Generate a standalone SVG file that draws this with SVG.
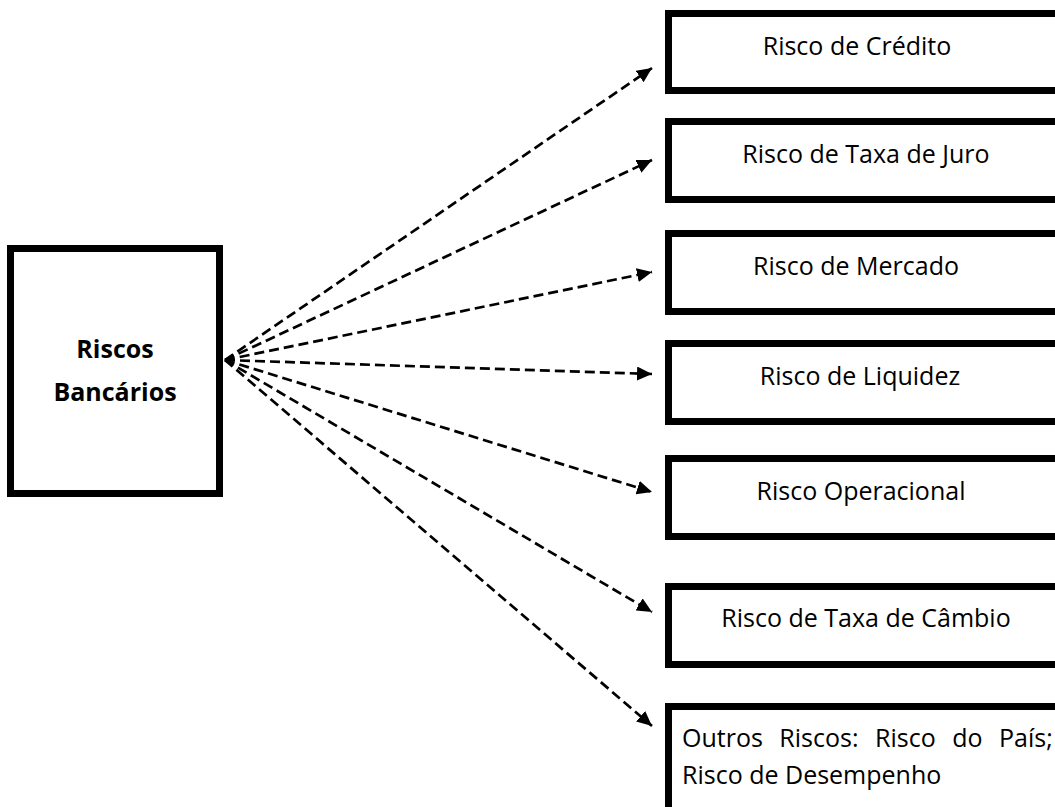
<svg xmlns="http://www.w3.org/2000/svg" width="1055" height="807" viewBox="0 0 1055 807">
<defs>
<style>
.box{fill:#fff;stroke:#000;stroke-width:7}
.t{font-family:"Open Sans","Noto Sans",sans-serif;font-size:25px;fill:#000}
.b{font-weight:bold;text-anchor:middle}
.c{text-anchor:middle}
.ln{stroke:#000;stroke-width:2.7;stroke-dasharray:10,5;fill:none;marker-end:url(#ah)}
</style>
<marker id="ah" markerUnits="userSpaceOnUse" markerWidth="16" markerHeight="14" refX="15" refY="7" orient="auto">
<path d="M0,0 L15,7 L0,14 Z" fill="#000"/>
</marker>
</defs>
<rect width="1055" height="807" fill="#fff"/>
<g id="riscos-bancarios">
<rect class="box" x="10.5" y="248.5" width="209" height="245"/>
<text class="t b" x="115" y="358">Riscos</text>
<text class="t b" x="115" y="401">Bancários</text>
</g>
<g id="credito">
<rect class="box" x="668.5" y="13.5" width="420" height="77"/>
<text class="t c" x="857" y="55">Risco de Crédito</text>
</g>
<g id="taxa-juro">
<rect class="box" x="668.5" y="121.5" width="420" height="78"/>
<text class="t c" x="866" y="163">Risco de Taxa de Juro</text>
</g>
<g id="mercado">
<rect class="box" x="668.5" y="233.5" width="420" height="78"/>
<text class="t c" x="856" y="275">Risco de Mercado</text>
</g>
<g id="liquidez">
<rect class="box" x="668.5" y="343.5" width="420" height="78"/>
<text class="t c" x="860" y="385">Risco de Liquidez</text>
</g>
<g id="operacional">
<rect class="box" x="668.5" y="458.5" width="420" height="78"/>
<text class="t c" x="861" y="500">Risco Operacional</text>
</g>
<g id="cambio">
<rect class="box" x="668.5" y="586.5" width="420" height="78"/>
<text class="t c" x="866" y="627">Risco de Taxa de Câmbio</text>
</g>
<g id="outros">
<rect class="box" x="668.5" y="706.5" width="420" height="120"/>
<text class="t" x="682" y="747" word-spacing="10">Outros Riscos: Risco do País;</text>
<text class="t" x="682" y="784">Risco de Desempenho</text>
</g>
<g id="connectors">
<line class="ln" x1="225" y1="360" x2="652" y2="68"/>
<line class="ln" x1="225" y1="360" x2="652" y2="160"/>
<line class="ln" x1="225" y1="360" x2="652" y2="272"/>
<line class="ln" x1="225" y1="360" x2="652" y2="374"/>
<line class="ln" x1="225" y1="360" x2="652" y2="492"/>
<line class="ln" x1="225" y1="360" x2="652" y2="612"/>
<line class="ln" x1="225" y1="360" x2="652" y2="726"/>
</g>
</svg>
